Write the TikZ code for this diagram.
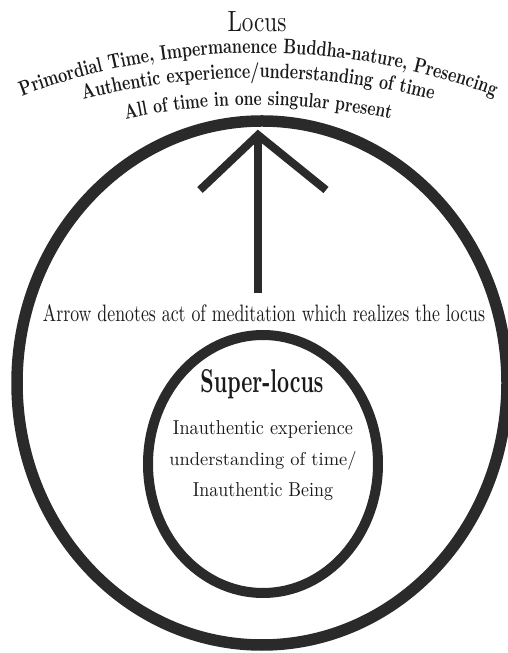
\documentclass[tikz,border=0pt]{standalone}
\usepackage{graphicx}
\usepackage{fontspec}
\usetikzlibrary{decorations.text}
\newfontfamily\gabarc{lmroman10-bold.otf}[FakeStretch=0.75]
\definecolor{ink}{HTML}{2A2A2A}
\definecolor{txt}{HTML}{1A1A1A}
\tikzset{
  ring/.style={draw=ink},
  arrowline/.style={draw=ink, line width=8pt, line join=miter},
  lbl/.style={text=txt, inner sep=0pt, anchor=base},
  arctext/.style={decorate, decoration={text along path, text align=center, text color=txt}}
}
\begin{document}
\begin{tikzpicture}[x=1pt,y=1pt]
\useasboundingbox (0,0) rectangle (507,653);
\fill[white] (0,0) rectangle (507,653);
% rings
\draw[ring, line width=11.5pt] (262,270) ellipse [x radius=245, y radius=262];
\draw[ring, line width=10pt] (263,189) ellipse [x radius=115, y radius=129];
% arrow
\coordinate (tail) at (258,360);
\coordinate (tip) at (258,518);
\coordinate (hl) at (200,463);
\coordinate (hr) at (326,463);
\draw[arrowline] (tail) -- (tip);
\draw[arrowline] (hl) -- (tip) -- (hr);
% top title
\node[lbl] (locus) at (257,621) {\resizebox{59pt}{20pt}{Locus}};
\path[arctext, decoration={text={|\gabarc\fontsize{21}{24}\selectfont|Primordial Time, Impermanence Buddha-nature, Presencing}}]
  (258,-65) ++(125:665) arc[start angle=125, end angle=55, radius=665];
\path[arctext, decoration={text={|\gabarc\fontsize{21}{24}\selectfont|Authentic experience/understanding of time}}]
  (258,-140) ++(125:715) arc[start angle=125, end angle=55, radius=715];
\path[arctext, decoration={text={|\gabarc\fontsize{20.5}{24}\selectfont|All of time in one singular present}}]
  (258,-76) ++(125:624) arc[start angle=125, end angle=55, radius=624];
% arrow label
\node[lbl] (arrowtxt) at (264,331) {\resizebox{442pt}{17pt}{Arrow denotes act of meditation which realizes the locus}};
% inner texts
\node[lbl] (super) at (262,260) {\resizebox{123pt}{23pt}{\bfseries Super-locus}};
\node[lbl] (in1) at (263,218) {\resizebox{180pt}{14pt}{Inauthentic experience}};
\node[lbl] (in2) at (263,187) {\resizebox{187pt}{14pt}{understanding of time/}};
\node[lbl] (in3) at (263,156) {\resizebox{140pt}{14pt}{Inauthentic Being}};
\end{tikzpicture}
\end{document}
